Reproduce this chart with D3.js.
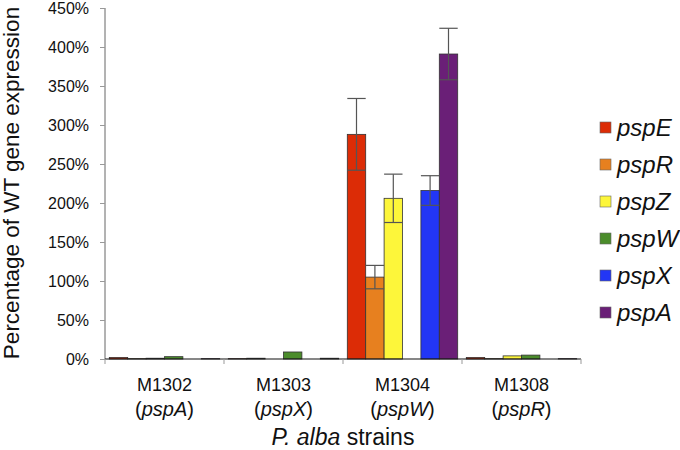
<!DOCTYPE html>
<html><head><meta charset="utf-8">
<script src="https://cdn.jsdelivr.net/npm/d3@7"></script>
<style>body{margin:0;background:#fff}svg{display:block;font-family:"Liberation Sans",Arial,sans-serif}</style>
</head><body><svg id="c" width="680" height="450"></svg>
<script>
const strains = ["M1302","M1303","M1304","M1308"];
const mutants = ["pspA","pspX","pspW","pspR"];
const genes = ["pspE","pspR","pspZ","pspW","pspX","pspA"];
const colors = ["#dc2c06","#e7801f","#fdf63a","#4b8c2b","#2236f5","#6a1f77"];
const pspE = [2, 0.5, 288, 2];
const pspR = [0.5, 1, 105, 0.5];
const pspZ = [1, 0, 206, 4];
const pspW = [3, 9, 0, 5];
const pspX = [0, 0, 216, 0];
const pspA = [0.5, 1, 391, 0.5];
const errE = [0, 0, 46, 0];
const errR = [0, 0, 15, 0];
const errZ = [0, 0, 31, 0];
const errW = [0, 0, 0, 0];
const errX = [0, 0, 19, 0];
const errA = [0, 0, 33, 0];
const yTicks = [0,50,100,150,200,250,300,350,400,450];

const values = [pspE,pspR,pspZ,pspW,pspX,pspA];
const errs = [errE,errR,errZ,errW,errX,errA];
const svg = d3.select("#c");
const y = d3.scaleLinear().domain([0,450]).range([359,8]);
const x0 = d3.scaleBand().domain(strains).range([105,581]);
const x1 = d3.scaleBand().domain(genes).range([4.3, x0.bandwidth()-4.3]);

// y axis
const ya = svg.append("g").attr("transform","translate(105,0)")
  .call(d3.axisLeft(y).tickValues(yTicks).tickFormat(d=>d+"%").tickSize(5).tickPadding(11));
ya.select(".domain").attr("stroke","#666").attr("d","M0,8V359");
ya.selectAll(".tick line").attr("stroke","#999");
ya.selectAll("text").attr("font-size",16).attr("fill","#111").attr("font-family","Liberation Sans, Arial, sans-serif");

// bars
const data = [];
strains.forEach((s,i)=>genes.forEach((g,j)=>data.push({s,g,v:values[j][i],e:errs[j][i],c:colors[j]})));
svg.append("g").selectAll("rect").data(data).join("rect")
  .attr("x",d=>x0(d.s)+x1(d.g)).attr("width",x1.bandwidth())
  .attr("y",d=>y(d.v)).attr("height",d=>y(0)-y(d.v))
  .attr("fill",d=>d.c).attr("stroke","#333").attr("stroke-width",0.8);

// error bars
const eb = svg.append("g").selectAll("g").data(data.filter(d=>d.e>0)).join("g")
  .attr("stroke","#555").attr("stroke-width",1.2);
eb.append("line").attr("x1",d=>x0(d.s)+x1(d.g)+x1.bandwidth()/2).attr("x2",d=>x0(d.s)+x1(d.g)+x1.bandwidth()/2)
  .attr("y1",d=>y(d.v+d.e)).attr("y2",d=>y(d.v-d.e));
eb.append("line").attr("x1",d=>x0(d.s)+x1(d.g)).attr("x2",d=>x0(d.s)+x1(d.g)+x1.bandwidth())
  .attr("y1",d=>y(d.v+d.e)).attr("y2",d=>y(d.v+d.e));
eb.append("line").attr("x1",d=>x0(d.s)+x1(d.g)).attr("x2",d=>x0(d.s)+x1(d.g)+x1.bandwidth())
  .attr("y1",d=>y(d.v-d.e)).attr("y2",d=>y(d.v-d.e));

// x axis
svg.append("line").attr("x1",105).attr("x2",581).attr("y1",y(0)).attr("y2",y(0)).attr("stroke","#111").attr("stroke-width",1.2);
svg.append("g").selectAll("line").data(strains.concat(["end"])).join("line")
  .attr("x1",(d,i)=>i<strains.length?x0(d):x0(strains[strains.length-1])+x0.bandwidth())
  .attr("x2",(d,i)=>i<strains.length?x0(d):x0(strains[strains.length-1])+x0.bandwidth())
  .attr("y1",y(0)).attr("y2",y(0)+5).attr("stroke","#999");
const lab = svg.append("g").selectAll("g").data(strains).join("g")
  .attr("transform",d=>`translate(${x0(d)+x0.bandwidth()/2},0)`);
lab.append("text").attr("y",391).attr("text-anchor","middle").attr("font-size",18).attr("fill","#111").text(d=>d);
lab.append("text").attr("y",416).attr("text-anchor","middle").attr("font-size",20).attr("fill","#111")
  .each(function(d,i){const t=d3.select(this);t.append("tspan").text("(");t.append("tspan").attr("font-style","italic").text(mutants[i]);t.append("tspan").text(")");});

// axis titles
const xt = svg.append("text").attr("x",343).attr("y",445).attr("text-anchor","middle").attr("font-size",23).attr("fill","#111");
xt.append("tspan").attr("font-style","italic").text("P. alba");
xt.append("tspan").text(" strains");
svg.append("text").attr("transform","translate(19,183) rotate(-90)").attr("text-anchor","middle")
  .attr("font-size",22.5).attr("fill","#111").text("Percentage of WT gene expression");

// legend
const lg = svg.append("g").selectAll("g").data(genes).join("g")
  .attr("transform",(d,i)=>`translate(600,${128+i*37})`);
lg.append("rect").attr("x",0).attr("y",-6).attr("width",11).attr("height",11).attr("fill",(d,i)=>colors[i]).attr("stroke","#666").attr("stroke-width",0.6);
lg.append("text").attr("x",17).attr("y",8).attr("font-size",24).attr("font-style","italic").attr("fill","#111").text(d=>d);
</script></body></html>
